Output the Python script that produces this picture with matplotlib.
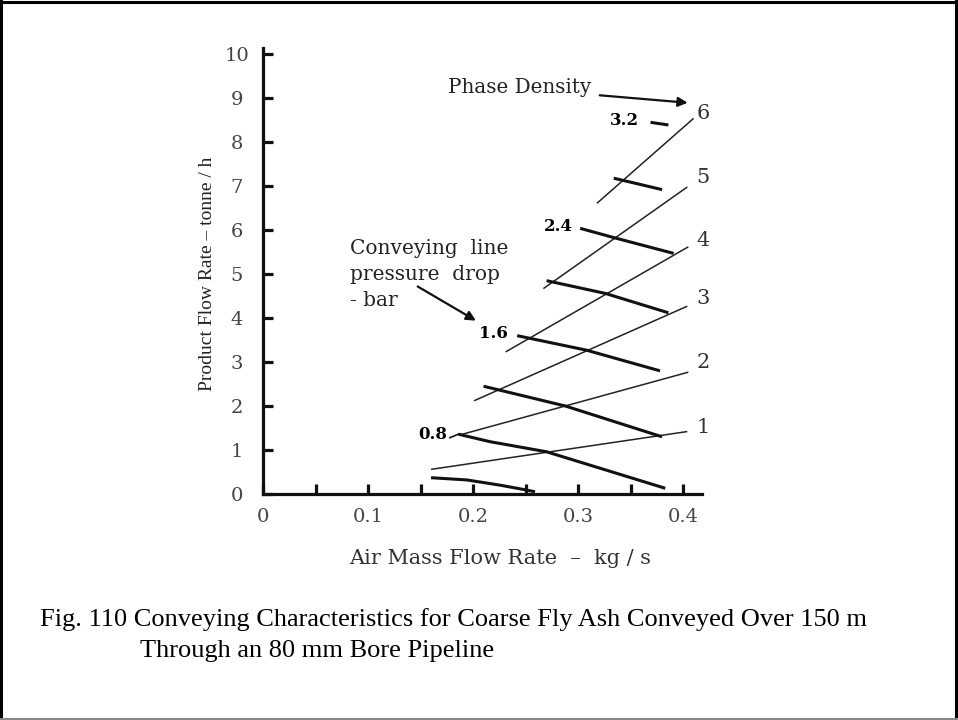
import matplotlib
matplotlib.use('Agg')
import matplotlib.pyplot as plt
from matplotlib.lines import Line2D

plt.rcParams['font.family'] = ['Liberation Serif', 'DejaVu Serif']
WIDE = ['DejaVu Serif']

phase_density = [1, 2, 3, 4, 5, 6]
phase_x = [[0.160, 0.404], [0.187, 0.405], [0.201, 0.404],
           [0.231, 0.405], [0.267, 0.404], [0.318, 0.410]]
phase_y = [[0.56, 1.42], [1.34, 2.77], [2.12, 4.27],
           [3.23, 5.62], [4.67, 6.98], [6.61, 8.54]]

# conveying line pressure drop curves (thick)
pressure_drop = [0.4, 0.8, 1.2, 1.6, 2.0, 2.4, 2.8, 3.2]
pressure_x = [[0.160, 0.194, 0.226, 0.251, 0.259],
              [0.186, 0.216, 0.270, 0.383],
              [0.210, 0.288, 0.380],
              [0.242, 0.308, 0.378],
              [0.270, 0.326, 0.386],
              [0.302, 0.337, 0.391],
              [0.334, 0.380],
              [0.369, 0.386]]
pressure_y = [[0.37, 0.32, 0.20, 0.09, 0.05],
              [1.36, 1.19, 0.96, 0.13],
              [2.45, 2.00, 1.30],
              [3.60, 3.27, 2.80],
              [4.85, 4.56, 4.12],
              [6.04, 5.81, 5.47],
              [7.18, 6.92],
              [8.45, 8.39]]
labelled_drops = ['0.8', '1.6', '2.4', '3.2']

x_ticks = [0, 0.05, 0.1, 0.15, 0.2, 0.25, 0.3, 0.35, 0.4]
x_ticklabels = ['0', '', '0.1', '', '0.2', '', '0.3', '', '0.4']
y_ticks = list(range(0, 11))

W, H = 958, 720
fig = plt.figure(figsize=(W / 100, H / 100), dpi=100)
ax = fig.add_axes([263 / W, (H - 494) / H, 439 / W, 446 / H])
ax.set_xlim(0, 0.418)
ax.set_ylim(0, 10.14)

for xs, ys in zip(phase_x, phase_y):
    ax.plot(xs, ys, color='#222222', lw=1.1, solid_capstyle='butt')
for xs, ys in zip(pressure_x, pressure_y):
    ax.plot(xs, ys, color='#111111', lw=2.2, solid_capstyle='butt')

for s in ['top', 'right']:
    ax.spines[s].set_visible(False)
for s in ['left', 'bottom']:
    ax.spines[s].set_linewidth(2.3)
    ax.spines[s].set_color('#111111')

ax.set_xticks(x_ticks)
ax.set_xticklabels(x_ticklabels)
ax.set_yticks(y_ticks)
ax.tick_params(axis='both', direction='in', length=7, width=2.3,
               color='#111111', labelsize=14, labelcolor='#444444')
ax.tick_params(axis='x', pad=10)
ax.tick_params(axis='y', pad=19)
for lab in ax.get_xticklabels() + ax.get_yticklabels():
    lab.set_family(WIDE)
for lab in ax.get_yticklabels():
    lab.set_horizontalalignment('center')

# phase density numbers at the right end of each line
num_y = [1.52, 2.98, 4.45, 5.77, 7.20, 8.66]
for d, yy in zip(phase_density, num_y):
    ax.text(0.419, yy, str(d), fontsize=15, color='#333333', family=WIDE,
            ha='center', va='center', clip_on=False)

# bold pressure drop labels
lab_pos = [(0.175, 1.36), (0.233, 3.64), (0.295, 6.09), (0.358, 8.50)]
for txt, (lx, ly) in zip(labelled_drops, lab_pos):
    ax.text(lx, ly, txt, fontsize=12, fontweight='bold', family=WIDE,
            ha='right', va='center')
ax.plot([0.178, 0.186], [1.28, 1.36], color='#111111', lw=1.2)

ax.text(0.176, 9.25, 'Phase Density', fontsize=14.3, family=WIDE,
        color='#222222', ha='left', va='center')
ax.annotate('', xy=(0.407, 8.89), xytext=(0.318, 9.07),
            arrowprops=dict(arrowstyle='-|>', color='#111111', lw=1.6,
                            mutation_scale=14))

note_lines = ['Conveying  line', 'pressure  drop', '- bar']
note_y = [5.59, 5.00, 4.41]
for txt, yy in zip(note_lines, note_y):
    ax.text(0.083, yy, txt, fontsize=14.5, family=WIDE, color='#222222',
            ha='left', va='center')
ax.annotate('', xy=(0.205, 3.91), xytext=(0.145, 4.75),
            arrowprops=dict(arrowstyle='-|>', color='#111111', lw=1.6,
                            mutation_scale=14))

fig.text(500 / W, 1 - 558 / H, 'Air Mass Flow Rate  \u2013  kg / s', fontsize=15,
         family=WIDE, ha='center', va='center', color='#333333')
fig.text(208 / W, 1 - 274 / H, 'Product Flow Rate \u2013 tonne / h', fontsize=14,
         ha='center', va='center', rotation=90, color='#222222')

fig.text(40 / W, 1 - 626 / H,
         'Fig. 110 Conveying Characteristics for Coarse Fly Ash Conveyed Over 150 m',
         fontsize=19, ha='left', va='baseline')
fig.text(140 / W, 1 - 657 / H, 'Through an 80 mm Bore Pipeline',
         fontsize=19, ha='left', va='baseline')

# page frame
fig.add_artist(Line2D([0, 1], [1 - 1.5 / H] * 2, transform=fig.transFigure, color='black', lw=2.2))
fig.add_artist(Line2D([1 / W] * 2, [0, 1], transform=fig.transFigure, color='black', lw=2.2))
fig.add_artist(Line2D([1 - 2 / W] * 2, [0, 1], transform=fig.transFigure, color='black', lw=2.2))
fig.add_artist(Line2D([0, 1], [1.5 / H] * 2, transform=fig.transFigure, color='#888888', lw=1.5))

fig.savefig('out.png', dpi=100)
